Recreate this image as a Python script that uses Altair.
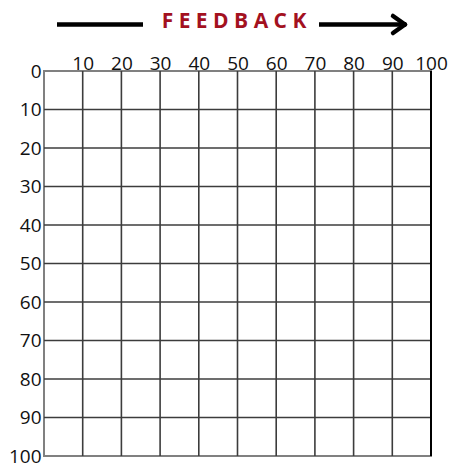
import altair as alt
import pandas as pd

# --- data ---
x_labels = [10, 20, 30, 40, 50, 60, 70, 80, 90, 100]
y_labels = [0, 10, 20, 30, 40, 50, 60, 70, 80, 90, 100]
grid_x = [10, 20, 30, 40, 50, 60, 70, 80, 90]
grid_y = [10, 20, 30, 40, 50, 60, 70, 80, 90]
right_edge = [100]
title_text = ["F E E D B A C K"]

FONT = "Open Sans"
GRID = "#3c3c3c"
LABEL_SIZE = 19

xs = alt.Scale(domain=[0, 100], nice=False, zero=False)
ys = alt.Scale(domain=[0, 100], nice=False, zero=False, reverse=True)

vrules = alt.Chart(pd.DataFrame({"x": grid_x})).mark_rule(
    color=GRID, strokeWidth=1.6
).encode(
    x=alt.X("x:Q", scale=xs, axis=alt.Axis(
        orient="top", values=x_labels, title=None, grid=False, ticks=False,
        tickSize=0, domain=False, labelFont=FONT, labelFontSize=LABEL_SIZE,
        labelColor="#111111", labelPadding=2, labelBaseline="alphabetic",
        labelFlush=False, labelOverlap=False))
)

hrules = alt.Chart(pd.DataFrame({"y": grid_y})).mark_rule(
    color=GRID, strokeWidth=1.6
).encode(
    y=alt.Y("y:Q", scale=ys, axis=alt.Axis(
        orient="left", values=y_labels, title=None, grid=False, ticks=False,
        tickSize=0, domain=False, labelFont=FONT, labelFontSize=LABEL_SIZE,
        labelColor="#111111", labelPadding=3, labelFlush=False,
        labelOverlap=False))
)

redge = alt.Chart(pd.DataFrame({"x": right_edge})).mark_rule(
    color="#000000", strokeWidth=2
).encode(x=alt.X("x:Q", scale=xs))

title = alt.Chart(pd.DataFrame({"t": title_text})).mark_text(
    font=FONT, fontWeight="bold", fontSize=21, color="#A3111F",
    align="center", baseline="alphabetic"
).encode(text="t:N", x=alt.value(190), y=alt.value(-43))

seg = pd.DataFrame({"k": [0]})
arrow_left = alt.Chart(seg).mark_rule(color="#000000", strokeWidth=4.5).encode(
    x=alt.value(13), x2=alt.value(99), y=alt.value(-46.5), y2=alt.value(-46.5))
arrow_right = alt.Chart(seg).mark_rule(color="#000000", strokeWidth=4.5).encode(
    x=alt.value(275), x2=alt.value(360), y=alt.value(-46.5), y2=alt.value(-46.5))
head1 = alt.Chart(seg).mark_rule(color="#000000", strokeWidth=4.5, strokeCap="round").encode(
    x=alt.value(349), x2=alt.value(361), y=alt.value(-55), y2=alt.value(-46.5))
head2 = alt.Chart(seg).mark_rule(color="#000000", strokeWidth=4.5, strokeCap="round").encode(
    x=alt.value(349), x2=alt.value(361), y=alt.value(-38), y2=alt.value(-46.5))

chart = alt.layer(
    vrules, hrules, redge, title, arrow_left, arrow_right, head1, head2
).properties(
    width=387, height=385,
    autosize=alt.AutoSizeParams(type="none"),
    padding={"left": 44, "top": 71, "right": 26, "bottom": 14},
    background="white",
).configure_view(stroke="#808080", strokeWidth=2)

chart.save("out.html", embed_options={"renderer": "svg", "actions": False})
